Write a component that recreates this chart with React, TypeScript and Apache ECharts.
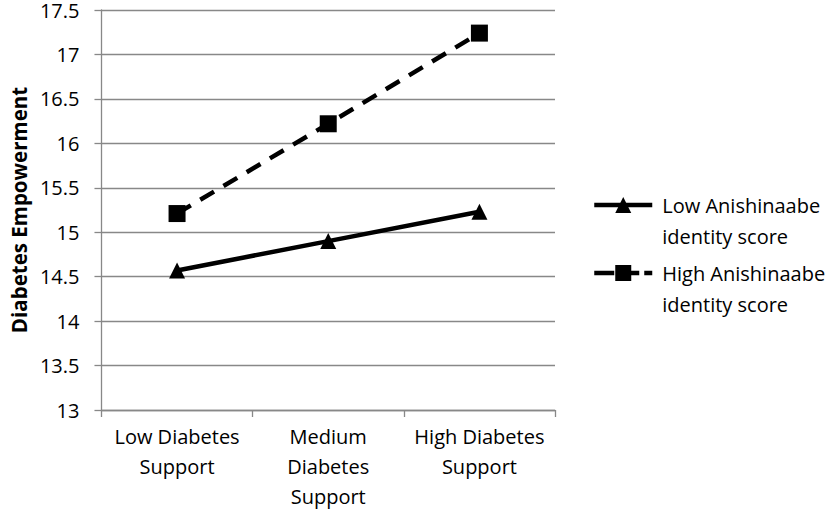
import React, { useEffect, useRef } from "react";
import * as echarts from "echarts";

const categories = ["Low Diabetes\nSupport", "Medium\nDiabetes\nSupport", "High Diabetes\nSupport"];
const lowIdentity = [14.57, 14.9, 15.23];
const highIdentity = [15.21, 16.22, 17.24];
const seriesNames = ["Low Anishinaabe\nidentity score", "High Anishinaabe\nidentity score"];
const yTitle = "Diabetes Empowerment";

const FONT = "'Open Sans', 'Noto Sans', sans-serif";

export default function App() {
  const ref = useRef<HTMLDivElement>(null);
  useEffect(() => {
    const chart = echarts.init(ref.current!, null, { renderer: "svg" });
    const legendCommon = {
      orient: "vertical",
      left: 592,
      padding: 0,
      itemWidth: 58,
      itemHeight: 20,
      textStyle: { fontFamily: FONT, fontSize: 20, color: "#000", lineHeight: 31, padding: [0, 0, 0, 5] },
      formatter: (n: string) => "\n" + n,
    };
    chart.setOption({
      animation: false,
      grid: { left: 93, top: 8.5, right: 271, bottom: 99.3, containLabel: false },
      legend: [
        { ...legendCommon, top: 158.5, data: [seriesNames[0]], lineStyle: { width: 4.5 } },
        { ...legendCommon, top: 226.5, data: [seriesNames[1]], lineStyle: { width: 4.5, type: [20, 5] } },
      ],
      xAxis: {
        type: "category",
        data: categories,
        boundaryGap: true,
        axisLine: { lineStyle: { color: "#888", width: 1.3 } },
        axisTick: { show: true, length: 7, lineStyle: { color: "#888", width: 1.3 } },
        axisLabel: { interval: 0, fontFamily: FONT, fontSize: 20, color: "#000", lineHeight: 30, margin: 11 },
        splitLine: { show: false },
      },
      yAxis: {
        type: "value",
        min: 13,
        max: 17.5,
        interval: 0.5,
        name: yTitle,
        nameLocation: "middle",
        nameGap: 70,
        nameTextStyle: { fontFamily: FONT, fontSize: 20.5, fontWeight: "bold", color: "#000" },
        axisLine: { show: true, lineStyle: { color: "#888", width: 1.3 } },
        axisTick: { show: true, length: 7, lineStyle: { color: "#888", width: 1.3 } },
        axisLabel: { fontFamily: FONT, fontSize: 20, lineHeight: 17, color: "#000", margin: 22 },
        splitLine: { show: true, lineStyle: { color: "#888", width: 1.3 } },
      },
      series: [
        {
          name: seriesNames[0],
          type: "line",
          data: lowIdentity,
          symbol: "triangle",
          symbolSize: 16,
          lineStyle: { color: "#000", width: 4.5, type: "solid" },
          itemStyle: { color: "#000" },
        },
        {
          name: seriesNames[1],
          type: "line",
          data: highIdentity,
          symbol: "rect",
          symbolSize: 17,
          lineStyle: { color: "#000", width: 4.5, type: [16, 11] },
          itemStyle: { color: "#000" },
        },
      ],
    });
    return () => chart.dispose();
  }, []);
  return <div ref={ref} style={{ width: 826, height: 511, position: "absolute", left: 0, top: 0, background: "#fff" }} />;
}
